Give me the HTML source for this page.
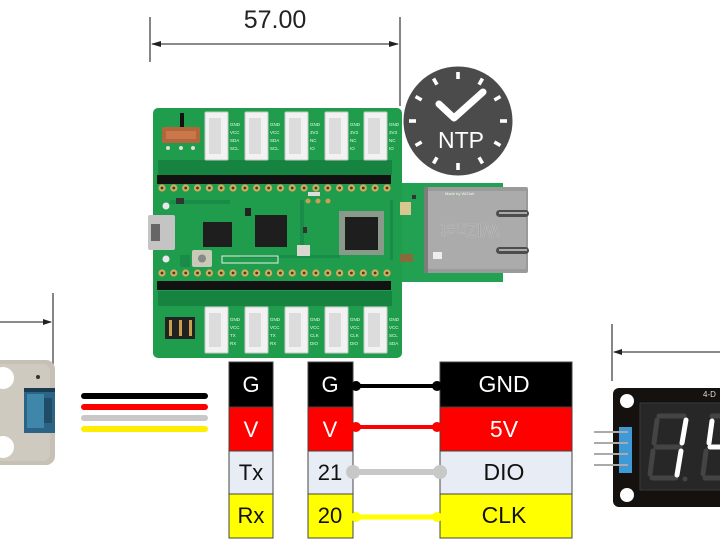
<!DOCTYPE html>
<html><head><meta charset="utf-8">
<style>html,body{margin:0;padding:0;background:#fff;width:720px;height:540px;overflow:hidden}svg{display:block}</style>
</head>
<body>
<svg width="720" height="540" viewBox="0 0 720 540" xmlns="http://www.w3.org/2000/svg" font-family="Liberation Sans, sans-serif">
<rect width="720" height="540" fill="#fff"/>

<!-- top dimension -->
<g stroke="#444" stroke-width="1.3" fill="none">
<line x1="150" y1="17" x2="150" y2="62"/>
<line x1="400" y1="17" x2="400" y2="106"/>
<line x1="152" y1="44" x2="398" y2="44"/>
</g>
<polygon points="151,44 161,41 161,47" fill="#222"/>
<polygon points="399,44 389,41 389,47" fill="#222"/>
<text x="275" y="28" font-size="25" text-anchor="middle" fill="#222">57.00</text>

<!-- NTP clock -->
<circle cx="458" cy="121" r="54.5" fill="#4b4b4b"/>
<g fill="#fff">
<g transform="translate(458,121)">
<rect x="-1.8" y="-49" width="3.6" height="7" transform="rotate(0)"/>
<rect x="-1.8" y="-49" width="3.6" height="7" transform="rotate(30)"/>
<rect x="-1.8" y="-49" width="3.6" height="7" transform="rotate(60)"/>
<rect x="-1.8" y="-49" width="3.6" height="7" transform="rotate(90)"/>
<rect x="-1.8" y="-49" width="3.6" height="7" transform="rotate(120)"/>
<rect x="-1.8" y="-49" width="3.6" height="7" transform="rotate(150)"/>
<rect x="-1.8" y="-49" width="3.6" height="7" transform="rotate(180)"/>
<rect x="-1.8" y="-49" width="3.6" height="7" transform="rotate(210)"/>
<rect x="-1.8" y="-49" width="3.6" height="7" transform="rotate(240)"/>
<rect x="-1.8" y="-49" width="3.6" height="7" transform="rotate(270)"/>
<rect x="-1.8" y="-49" width="3.6" height="7" transform="rotate(300)"/>
<rect x="-1.8" y="-49" width="3.6" height="7" transform="rotate(330)"/>
</g>
</g>
<polyline points="439,104 454,118 483,92" fill="none" stroke="#fff" stroke-width="7" stroke-linecap="round" stroke-linejoin="round"/>
<text x="461" y="148" font-size="23" text-anchor="middle" fill="#fff">NTP</text>

<!-- PCB -->
<rect x="398" y="183" width="105" height="99" fill="#23a152"/>
<rect x="153" y="108" width="249" height="250" rx="5" fill="#1f9d4d"/>
<!-- darker zones -->
<rect x="158" y="160" width="234" height="15" fill="#178340"/>
<rect x="158" y="291" width="234" height="15" fill="#178340"/>
<g fill="#19884a" opacity="0.8">
<rect x="170" y="200" width="60" height="4"/>
<rect x="240" y="255" width="100" height="3"/>
<rect x="300" y="200" width="4" height="50"/>
<rect x="390" y="200" width="3" height="60"/>
<rect x="180" y="255" width="10" height="12"/>
</g>
<!-- switch -->
<rect x="180" y="113" width="4" height="15" fill="#111"/>
<rect x="162" y="127" width="38" height="16" rx="2" fill="#b5653a"/>
<rect x="166" y="131" width="30" height="8" fill="#c8784a"/>
<circle cx="168" cy="148" r="2" fill="#ddd"/><circle cx="181" cy="148" r="2" fill="#ddd"/><circle cx="193" cy="148" r="2" fill="#ddd"/>

<!-- top connectors -->
<g fill="#f2f2f2" stroke="#c8c8c8" stroke-width="1">
<rect x="205" y="112" width="23" height="48" rx="1"/>
<rect x="245" y="112" width="23" height="48" rx="1"/>
<rect x="285" y="112" width="23" height="48" rx="1"/>
<rect x="325" y="112" width="23" height="48" rx="1"/>
<rect x="364" y="112" width="23" height="48" rx="1"/>
<rect x="205" y="307" width="23" height="46" rx="1"/>
<rect x="245" y="307" width="23" height="46" rx="1"/>
<rect x="285" y="307" width="23" height="46" rx="1"/>
<rect x="325" y="307" width="23" height="46" rx="1"/>
<rect x="364" y="307" width="23" height="46" rx="1"/>
</g>
<g fill="#dcdcdc">
<rect x="209" y="118" width="12" height="36"/><rect x="249" y="118" width="12" height="36"/><rect x="289" y="118" width="12" height="36"/><rect x="329" y="118" width="12" height="36"/><rect x="368" y="118" width="12" height="36"/>
<rect x="209" y="313" width="12" height="34"/><rect x="249" y="313" width="12" height="34"/><rect x="289" y="313" width="12" height="34"/><rect x="329" y="313" width="12" height="34"/><rect x="368" y="313" width="12" height="34"/>
</g>
<g fill="#e8ffe8" font-size="4.5">
<text x="230" y="126">GND</text><text x="230" y="134">VCC</text><text x="230" y="142">SDA</text><text x="230" y="150">SCL</text>
<text x="270" y="126">GND</text><text x="270" y="134">VCC</text><text x="270" y="142">SDA</text><text x="270" y="150">SCL</text>
<text x="310" y="126">GND</text><text x="310" y="134">3V3</text><text x="310" y="142">NC</text><text x="310" y="150">IO</text>
<text x="350" y="126">GND</text><text x="350" y="134">3V3</text><text x="350" y="142">NC</text><text x="350" y="150">IO</text>
<text x="389" y="126">GND</text><text x="389" y="134">3V3</text><text x="389" y="142">NC</text><text x="389" y="150">IO</text>
<text x="230" y="321">GND</text><text x="230" y="329">VCC</text><text x="230" y="337">TX</text><text x="230" y="345">RX</text>
<text x="270" y="321">GND</text><text x="270" y="329">VCC</text><text x="270" y="337">TX</text><text x="270" y="345">RX</text>
<text x="310" y="321">GND</text><text x="310" y="329">VCC</text><text x="310" y="337">CLK</text><text x="310" y="345">DIO</text>
<text x="350" y="321">GND</text><text x="350" y="329">VCC</text><text x="350" y="337">CLK</text><text x="350" y="345">DIO</text>
<text x="389" y="321">GND</text><text x="389" y="329">VCC</text><text x="389" y="337">SCL</text><text x="389" y="345">SDA</text>
</g>

<!-- header strips -->
<rect x="157" y="175" width="234" height="9" fill="#121212"/>
<rect x="157" y="281" width="234" height="9" fill="#121212"/>
<g fill="#d2aa60">
<circle cx="162" cy="188" r="3.6"/><circle cx="173.8" cy="188" r="3.6"/><circle cx="185.7" cy="188" r="3.6"/><circle cx="197.5" cy="188" r="3.6"/><circle cx="209.4" cy="188" r="3.6"/><circle cx="221.2" cy="188" r="3.6"/><circle cx="233" cy="188" r="3.6"/><circle cx="244.9" cy="188" r="3.6"/><circle cx="256.7" cy="188" r="3.6"/><circle cx="268.6" cy="188" r="3.6"/><circle cx="280.4" cy="188" r="3.6"/><circle cx="292.2" cy="188" r="3.6"/><circle cx="304.1" cy="188" r="3.6"/><circle cx="315.9" cy="188" r="3.6"/><circle cx="327.8" cy="188" r="3.6"/><circle cx="339.6" cy="188" r="3.6"/><circle cx="351.4" cy="188" r="3.6"/><circle cx="363.3" cy="188" r="3.6"/><circle cx="375.1" cy="188" r="3.6"/><circle cx="387" cy="188" r="3.6"/>
<circle cx="162" cy="273" r="3.6"/><circle cx="173.8" cy="273" r="3.6"/><circle cx="185.7" cy="273" r="3.6"/><circle cx="197.5" cy="273" r="3.6"/><circle cx="209.4" cy="273" r="3.6"/><circle cx="221.2" cy="273" r="3.6"/><circle cx="233" cy="273" r="3.6"/><circle cx="244.9" cy="273" r="3.6"/><circle cx="256.7" cy="273" r="3.6"/><circle cx="268.6" cy="273" r="3.6"/><circle cx="280.4" cy="273" r="3.6"/><circle cx="292.2" cy="273" r="3.6"/><circle cx="304.1" cy="273" r="3.6"/><circle cx="315.9" cy="273" r="3.6"/><circle cx="327.8" cy="273" r="3.6"/><circle cx="339.6" cy="273" r="3.6"/><circle cx="351.4" cy="273" r="3.6"/><circle cx="363.3" cy="273" r="3.6"/><circle cx="375.1" cy="273" r="3.6"/><circle cx="387" cy="273" r="3.6"/>
</g>
<g fill="#4a3a18">
<circle cx="162" cy="188" r="1.4"/><circle cx="173.8" cy="188" r="1.4"/><circle cx="185.7" cy="188" r="1.4"/><circle cx="197.5" cy="188" r="1.4"/><circle cx="209.4" cy="188" r="1.4"/><circle cx="221.2" cy="188" r="1.4"/><circle cx="233" cy="188" r="1.4"/><circle cx="244.9" cy="188" r="1.4"/><circle cx="256.7" cy="188" r="1.4"/><circle cx="268.6" cy="188" r="1.4"/><circle cx="280.4" cy="188" r="1.4"/><circle cx="292.2" cy="188" r="1.4"/><circle cx="304.1" cy="188" r="1.4"/><circle cx="315.9" cy="188" r="1.4"/><circle cx="327.8" cy="188" r="1.4"/><circle cx="339.6" cy="188" r="1.4"/><circle cx="351.4" cy="188" r="1.4"/><circle cx="363.3" cy="188" r="1.4"/><circle cx="375.1" cy="188" r="1.4"/><circle cx="387" cy="188" r="1.4"/>
<circle cx="162" cy="273" r="1.4"/><circle cx="173.8" cy="273" r="1.4"/><circle cx="185.7" cy="273" r="1.4"/><circle cx="197.5" cy="273" r="1.4"/><circle cx="209.4" cy="273" r="1.4"/><circle cx="221.2" cy="273" r="1.4"/><circle cx="233" cy="273" r="1.4"/><circle cx="244.9" cy="273" r="1.4"/><circle cx="256.7" cy="273" r="1.4"/><circle cx="268.6" cy="273" r="1.4"/><circle cx="280.4" cy="273" r="1.4"/><circle cx="292.2" cy="273" r="1.4"/><circle cx="304.1" cy="273" r="1.4"/><circle cx="315.9" cy="273" r="1.4"/><circle cx="327.8" cy="273" r="1.4"/><circle cx="339.6" cy="273" r="1.4"/><circle cx="351.4" cy="273" r="1.4"/><circle cx="363.3" cy="273" r="1.4"/><circle cx="375.1" cy="273" r="1.4"/><circle cx="387" cy="273" r="1.4"/>
</g>

<!-- chips & parts -->
<rect x="148" y="215" width="27" height="35" rx="2" fill="#c4c4c4"/>
<rect x="151" y="224" width="9" height="17" fill="#666"/>
<circle cx="166" cy="206" r="3.5" fill="#e8e8e8"/><circle cx="166" cy="259" r="3.5" fill="#e8e8e8"/>
<rect x="203" y="222" width="29" height="25" fill="#1e1e1e"/>
<rect x="255" y="215" width="32" height="32" fill="#1e1e1e"/>
<rect x="339" y="211" width="45" height="44" fill="#8a9a8a"/>
<rect x="345" y="217" width="33" height="33" fill="#1e1e1e"/>
<rect x="192" y="250" width="20" height="17" rx="2" fill="#c9c9b8"/>
<circle cx="202" cy="258.5" r="4" fill="#888"/>
<rect x="222" y="256" width="56" height="7" fill="none" stroke="#e8f0e8" stroke-width="1"/>
<rect x="297" y="245" width="13" height="11" fill="#d8d8d0"/>
<rect x="303" y="227" width="4" height="6" fill="#333"/>
<rect x="245" y="208" width="6" height="8" fill="#222"/>
<rect x="176" y="198" width="8" height="6" fill="#333"/>
<rect x="308" y="192" width="12" height="4" fill="#ddd"/>
<circle cx="308" cy="201" r="2.5" fill="#c8a050"/><circle cx="318" cy="201" r="2.5" fill="#c8a050"/><circle cx="328" cy="201" r="2.5" fill="#c8a050"/>
<!-- jumper block -->
<rect x="165" y="317" width="30" height="22" fill="#222"/>
<g fill="#c8a050"><rect x="169" y="320" width="3" height="16"/><rect x="179" y="320" width="3" height="16"/><rect x="189" y="320" width="3" height="16"/></g>

<!-- ethernet extension parts -->
<rect x="400" y="202" width="11" height="13" fill="#d8c890"/>
<rect x="400" y="254" width="13" height="8" fill="#8a6a3a"/>
<rect x="412" y="195" width="4" height="4" fill="#333"/>
<!-- RJ45 -->
<rect x="424" y="187" width="104" height="86" rx="2" fill="#9a9a9a"/>
<rect x="428" y="191" width="98" height="78" fill="#ababab"/>
<rect x="424" y="187" width="4" height="86" fill="#7d7d7d"/>
<text x="470" y="236" font-size="18" text-anchor="middle" fill="#a2a2a2" stroke="#bcbcbc" stroke-width="0.6" transform="rotate(180 470 230)">WIZnet</text>
<rect x="496" y="210" width="33" height="7" rx="3.5" fill="#4d4d4d"/>
<rect x="499" y="212" width="28" height="2" fill="#aaa"/>
<rect x="496" y="247" width="33" height="7" rx="3.5" fill="#4d4d4d"/>
<rect x="499" y="249" width="28" height="2" fill="#aaa"/>
<rect x="433" y="252" width="9" height="7" fill="#eee"/>
<text x="445" y="195" font-size="4" fill="#e8ffe8">Made by WIZnet</text>

<!-- left device -->
<g stroke="#444" stroke-width="1.3">
<line x1="53" y1="293" x2="53" y2="370"/>
<line x1="0" y1="322" x2="51" y2="322"/>
</g>
<polygon points="52,322 43,319 43,325" fill="#222"/>
<rect x="-10" y="360" width="65" height="105" rx="9" fill="#c6c1b4"/>
<rect x="-6" y="364" width="56" height="97" rx="7" fill="#cfcac0"/>
<circle cx="3" cy="378" r="11" fill="#fff"/>
<circle cx="3" cy="447" r="11" fill="#fff"/>
<circle cx="38" cy="377" r="2" fill="#333"/>
<rect x="24" y="388" width="31" height="45" fill="#2b6485"/>
<rect x="24" y="388" width="31" height="4" fill="#1a3c52"/>
<rect x="27" y="394" width="17" height="34" fill="#3f86ab"/>
<rect x="44" y="398" width="8" height="25" fill="#1f4d68"/>

<!-- wires -->
<g stroke-width="6" stroke-linecap="round">
<line x1="84" y1="396" x2="205" y2="396" stroke="#000"/>
<line x1="84" y1="407" x2="205" y2="407" stroke="#f00"/>
<line x1="84" y1="418" x2="205" y2="418" stroke="#c8c8c8"/>
<line x1="84" y1="429" x2="205" y2="429" stroke="#ffee00"/>
</g>

<!-- tables -->
<g stroke="#444" stroke-width="1">
<rect x="229" y="362" width="44" height="45" fill="#000"/>
<rect x="229" y="407" width="44" height="44" fill="#f00"/>
<rect x="229" y="451" width="44" height="43" fill="#e8ecf5"/>
<rect x="229" y="494" width="44" height="44" fill="#ff0"/>
<rect x="308" y="362" width="45" height="45" fill="#000"/>
<rect x="308" y="407" width="45" height="44" fill="#f00"/>
<rect x="308" y="451" width="45" height="43" fill="#e8ecf5"/>
<rect x="308" y="494" width="45" height="44" fill="#ff0"/>
<rect x="440" y="362" width="132" height="45" fill="#000"/>
<rect x="440" y="407" width="132" height="44" fill="#f00"/>
<rect x="440" y="451" width="132" height="43" fill="#e8ecf5"/>
<rect x="440" y="494" width="132" height="44" fill="#ff0"/>
</g>

<!-- connections -->
<line x1="355" y1="386" x2="438" y2="386" stroke="#000" stroke-width="4"/>
<circle cx="356" cy="386" r="5" fill="#000"/><circle cx="437" cy="386" r="5" fill="#000"/>
<line x1="355" y1="427" x2="438" y2="427" stroke="#f00" stroke-width="4"/>
<circle cx="356" cy="427" r="5" fill="#f00"/><circle cx="437" cy="427" r="5" fill="#f00"/>
<line x1="353" y1="472" x2="440" y2="472" stroke="#c8c8c8" stroke-width="6"/>
<circle cx="353" cy="472" r="7" fill="#c8c8c8"/><circle cx="440" cy="472" r="7" fill="#c8c8c8"/>
<line x1="355" y1="517" x2="438" y2="517" stroke="#ff0" stroke-width="5"/>
<circle cx="356" cy="517" r="5" fill="#ff0"/><circle cx="437" cy="517" r="5" fill="#ff0"/>

<g font-size="22" text-anchor="middle">
<text x="251" y="392" fill="#fff">G</text>
<text x="251" y="437" fill="#fff">V</text>
<text x="251" y="480" fill="#111">Tx</text>
<text x="251" y="523" fill="#111">Rx</text>
<text x="330" y="392" fill="#fff">G</text>
<text x="330" y="437" fill="#fff">V</text>
<text x="330" y="480" fill="#111">21</text>
<text x="330" y="523" fill="#111">20</text>
<text x="504" y="392" fill="#fff" font-size="23">GND</text>
<text x="504" y="437" fill="#fff" font-size="23">5V</text>
<text x="504" y="480" fill="#111" font-size="23">DIO</text>
<text x="504" y="523" fill="#111" font-size="23">CLK</text>
</g>

<!-- right dimension -->
<g stroke="#444" stroke-width="1.3">
<line x1="612" y1="324" x2="612" y2="381"/>
<line x1="614" y1="352" x2="720" y2="352"/>
</g>
<polygon points="613,352 622,349 622,355" fill="#222"/>

<!-- display module -->
<line x1="594" y1="432" x2="630" y2="432" stroke="#8a8a8a" stroke-width="2"/>
<line x1="594" y1="443" x2="630" y2="443" stroke="#8a8a8a" stroke-width="2"/>
<line x1="594" y1="454" x2="630" y2="454" stroke="#8a8a8a" stroke-width="2"/>
<line x1="594" y1="465" x2="630" y2="465" stroke="#8a8a8a" stroke-width="2"/>
<rect x="613" y="388" width="115" height="119" rx="6" fill="#15110f"/>
<line x1="612" y1="432" x2="632" y2="432" stroke="#8a8a8a" stroke-width="2"/>
<rect x="619" y="427" width="13" height="46" fill="#3e9ad6"/>
<g stroke="#aaa" stroke-width="2"><line x1="594" y1="432" x2="628" y2="432"/><line x1="594" y1="443" x2="628" y2="443"/><line x1="594" y1="454" x2="628" y2="454"/><line x1="594" y1="465" x2="628" y2="465"/></g>
<circle cx="627" cy="401" r="7" fill="#fff"/>
<circle cx="627" cy="495" r="7" fill="#fff"/>
<rect x="640" y="403" width="90" height="87" fill="#272727" stroke="#3a3a3a" stroke-width="1"/>
<g stroke="#444" stroke-width="5" stroke-linecap="round">
<line x1="659" y1="416" x2="684" y2="416"/>
<line x1="657" y1="420" x2="654" y2="443"/>
<line x1="656" y1="447" x2="680" y2="447"/>
<line x1="653" y1="451" x2="650" y2="474"/>
<line x1="652" y1="478" x2="676" y2="478"/>
<line x1="706" y1="451" x2="703" y2="474"/>
<line x1="705" y1="478" x2="722" y2="478"/>
<line x1="712" y1="416" x2="722" y2="416"/>
</g>
<circle cx="685" cy="479" r="2.5" fill="#444"/>
<g stroke="#fff" stroke-width="5" stroke-linecap="round">
<line x1="686" y1="420" x2="682" y2="443"/>
<line x1="681" y1="451" x2="677" y2="475"/>
<line x1="712" y1="421" x2="709" y2="443"/>
<line x1="710" y1="447" x2="722" y2="447"/>
</g>
<text x="703" y="397" font-size="8" fill="#ddd">4-D</text>
</svg>
</body></html>
